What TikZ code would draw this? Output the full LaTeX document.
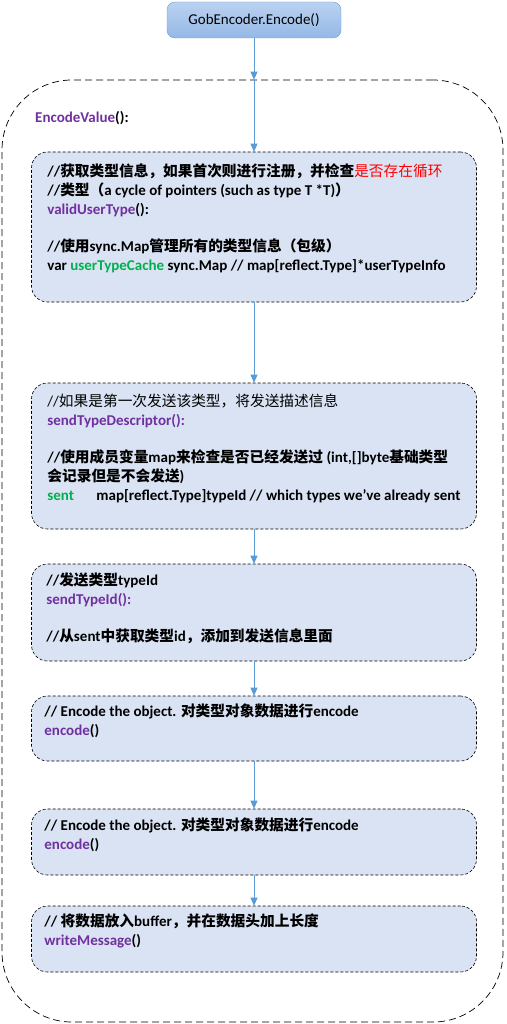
\documentclass[tikz,border=0pt]{standalone}
\usepackage{fontspec}
\setmainfont{Carlito}
\newfontfamily\cjk{Noto Sans CJK SC}[Scale=0.98]
\usetikzlibrary{arrows.meta,positioning}
\definecolor{fnpurple}{HTML}{7030A0}
\definecolor{vargreen}{HTML}{00B050}
\definecolor{warnred}{HTML}{FF0000}
\definecolor{flowblue}{HTML}{5B9BD5}
\definecolor{boxfill}{HTML}{DAE3F3}
\definecolor{gobtop}{HTML}{BBD2F1}
\definecolor{gobbot}{HTML}{94B8E6}
\definecolor{gobline}{HTML}{6C9BD6}
\newcommand{\zh}[1]{{\cjk #1}}
\newcommand{\fn}[1]{\textcolor{fnpurple}{#1}}

\begin{document}
\begin{tikzpicture}[x=1pt,y=-1pt,
  >={Triangle[length=8pt,width=7pt]},
  flow/.style={->,draw=flowblue,fill=flowblue,line width=0.8pt},
  stepbox/.style={draw,densely dashed,line width=0.6pt,rounded corners=16pt,
    fill=boxfill,minimum width=445pt,inner sep=0pt},
  txt/.style={align=left,inner sep=0pt,font=\bfseries\fontsize{15}{19}\selectfont}]
\useasboundingbox (0,0) rectangle (506,1024);

\node[draw=gobline,top color=gobtop,bottom color=gobbot,rounded corners=8pt,
  minimum width=174pt,minimum height=36pt,font=\fontsize{15}{18}\selectfont]
  (gob) at (254,20) {GobEncoder.Encode()};

% outer EncodeValue frame
\node[draw,dashed,dash pattern=on 7pt off 4pt,line width=0.7pt,rounded corners=70pt,
  minimum width=501pt,minimum height=942pt] (outer) at (252.5,551) {};
\node[txt,anchor=west] (encval) at (35,118) {\fn{EncodeValue}():};

\node[stepbox,minimum height=150pt] (valid) at (254,227) {};
\node[stepbox,minimum height=146pt] (desc) at (254,456) {};
\node[stepbox,minimum height=97pt] (sendid) at (254,612.5) {};
\node[stepbox,minimum height=65pt] (enc) at (254,728.5) {};
\node[stepbox,minimum height=66pt] (encb) at (254,842) {};
\node[stepbox,minimum height=66pt] (write) at (254,939) {};

\node[txt,below right=12pt and 16pt of valid.north west] (validtxt) {%
  //\zh{获取类型信息，如果首次则进行注册，并检查}{\mdseries\color{warnred}\zh{是否存在循环}}\\
  //\zh{类型（}a cycle of pointers (such as type T *T)\zh{）}\\
  \fn{validUserType}():\\[18pt]
  //\zh{使用}sync.Map\zh{管理所有的类型信息（包级）}\\
  var \textcolor{vargreen}{userTypeCache} sync.Map // map[reflect.Type]*userTypeInfo};
\node[txt,below right=11pt and 16pt of desc.north west] (desctxt) {%
  {\mdseries//\zh{如果是第一次发送该类型，将发送描述信息}}\\
  \fn{sendTypeDescriptor():}\\[18pt]
  //\zh{使用成员变量}map\zh{来检查是否已经发送过} (int,[]byte\zh{基础类型}\\
  \zh{会记录但是不会发送})\\
  \makebox[49pt][l]{\textcolor{vargreen}{sent}}map[reflect.Type]typeId // which types we've already sent};
\node[txt,below right=9pt and 15pt of sendid.north west] (sendidtxt) {%
  //\zh{发送类型}typeId\\
  \fn{sendTypeId():}\\[18pt]
  //\zh{从}sent\zh{中获取类型}id\zh{，添加到发送信息里面}};
\node[txt,below right=8pt and 13pt of enc.north west] (enctxt) {%
  // Encode the object. \zh{对类型对象数据进行}encode\\
  \fn{encode}()};
\node[txt,below right=9pt and 13pt of encb.north west] (encbtxt) {%
  // Encode the object. \zh{对类型对象数据进行}encode\\
  \fn{encode}()};
\node[txt,below right=8pt and 13pt of write.north west] (writetxt) {%
  // \zh{将数据放入}buffer\zh{，并在数据头加上长度}\\
  \fn{writeMessage}()};

\draw[flow] (gob) -- (gob.south |- outer.north);
\draw[flow] (gob.south |- outer.north) -- (valid);
\draw[flow] (valid) -- (desc);
\draw[flow] (desc) -- (sendid);
\draw[flow] (sendid) -- (enc);
\draw[flow] (enc) -- (encb);
\draw[flow] (encb) -- (write);
\end{tikzpicture}
\end{document}
